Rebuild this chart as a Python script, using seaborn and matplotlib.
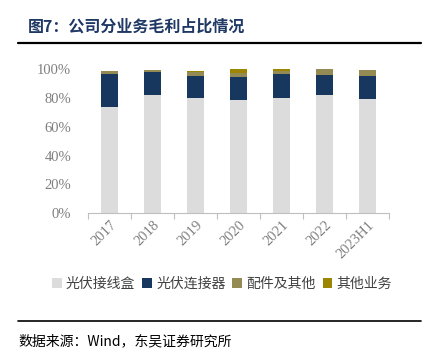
import matplotlib
matplotlib.use("Agg")
import matplotlib.pyplot as plt
from matplotlib.patches import Patch
from matplotlib.ticker import FixedLocator
import pandas as pd
import seaborn as sns

# 各业务毛利占比 (%)
years = ['2017', '2018', '2019', '2020', '2021', '2022', '2023H1']
junction_box = [73.9, 82.3, 79.8, 78.4, 80.0, 81.9, 79.1]   # 光伏接线盒
connector = [22.8, 16.0, 15.5, 16.4, 16.7, 14.4, 16.2]      # 光伏连接器
accessories = [1.9, 1.3, 2.7, 2.7, 1.8, 3.7, 4.0]           # 配件及其他
others = [0.3, 0.2, 0.8, 2.5, 1.5, 0.0, 0.0]                # 其他业务
series_names = ['光伏接线盒', '光伏连接器', '配件及其他', '其他业务']
colors = ['#DCDCDC', '#17375E', '#948A54', '#9C8500']

sns.set_theme(style="white")
plt.rcParams['font.family'] = ['Noto Sans CJK SC', 'DejaVu Sans']

df = pd.DataFrame({'year': years, 'a': junction_box, 'b': connector,
                   'c': accessories, 'd': others})
# 累加，画叠加柱
cum = df[['a', 'b', 'c', 'd']].cumsum(axis=1)
cum['year'] = df['year']

fig = plt.figure(figsize=(4.29, 3.51), dpi=100)
ax = fig.add_axes([88 / 429, 1 - 213 / 351, 301 / 429, (213 - 69.3) / 351])

for col, c in zip(['d', 'c', 'b', 'a'], colors[::-1]):
    sns.barplot(data=cum, x='year', y=col, color=c, width=0.4, ax=ax,
                saturation=1, edgecolor='none')

ax.set_ylim(0, 100)
ax.set_xlim(-0.5, len(years) - 0.5)
ax.set_xlabel('')
ax.set_ylabel('')
ax.set_yticks([0, 20, 40, 60, 80, 100])
ax.set_yticklabels([f'{v}%' for v in range(0, 101, 20)],
                   family='Liberation Serif', fontsize=10.5, color='#7F7F7F')
ax.set_xticks(range(len(years)))
ax.set_xticklabels(years, rotation=45, ha='right', rotation_mode='anchor',
                   family='Liberation Serif', fontsize=10.5, color='#7F7F7F')
ax.xaxis.set_minor_locator(FixedLocator([i - 0.5 for i in range(len(years) + 1)]))
ax.tick_params(axis='x', which='major', length=0, pad=4)
ax.tick_params(axis='x', which='minor', length=4, color='#BFBFBF', width=0.8,
               direction='out', bottom=True)
ax.tick_params(axis='y', length=0, pad=12)
for s in ['left', 'right', 'top']:
    ax.spines[s].set_visible(False)
ax.spines['bottom'].set_color('#BFBFBF')
ax.spines['bottom'].set_linewidth(0.8)
ax.grid(False)

handles = [Patch(facecolor=c, edgecolor='none') for c in colors]
fig.legend(handles, series_names, loc='center', bbox_to_anchor=(222 / 429, 1 - 284 / 351),
           ncol=4, frameon=False, fontsize=10, handlelength=0.7, handleheight=0.7,
           handletextpad=0.3, columnspacing=0.5, labelcolor='#404040')

# 标题与分隔线
fig.text(28 / 429, 1 - 27 / 351, '图7：公司分业务毛利占比情况', fontsize=11.5,
         fontweight='bold', color='#1F3864', va='center', ha='left')
fig.add_artist(plt.Line2D([18 / 429, 421 / 429], [1 - 42.7 / 351] * 2,
                          color='black', linewidth=1.6))
fig.add_artist(plt.Line2D([18 / 429, 421 / 429], [1 - 320.7 / 351] * 2,
                          color='black', linewidth=1.2))
fig.text(18 / 429, 1 - 341 / 351, '数据来源：Wind，东吴证券研究所', fontsize=10,
         color='black', va='center', ha='left')

fig.savefig('out.png', dpi=100)
